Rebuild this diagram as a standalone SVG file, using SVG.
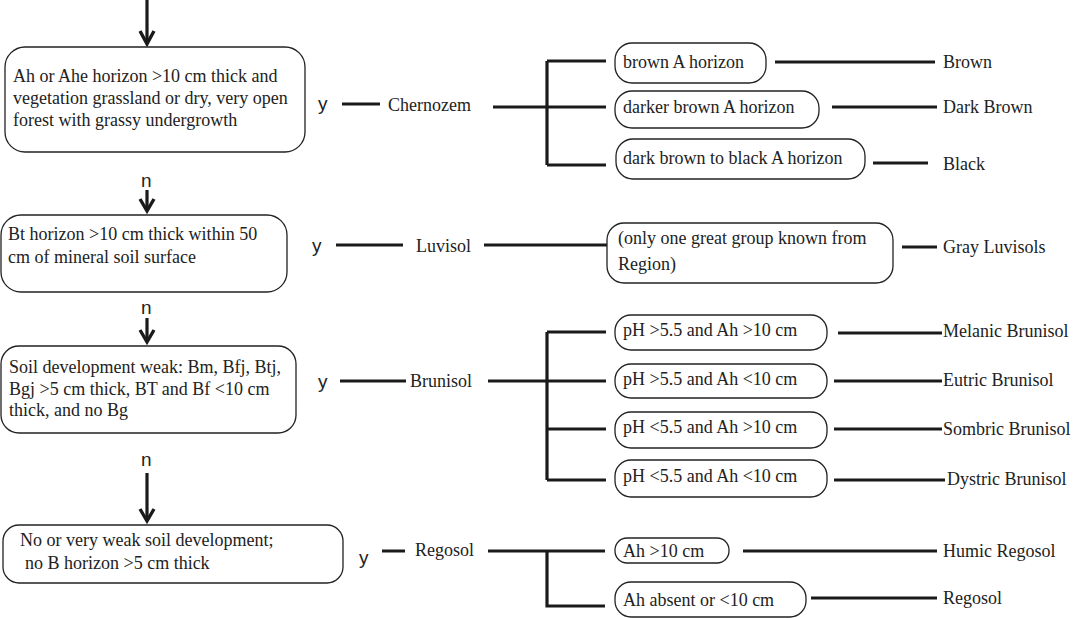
<svg xmlns="http://www.w3.org/2000/svg" width="1079" height="618" viewBox="0 0 1079 618">
<style>
.box{fill:#fff;stroke:#222;stroke-width:1.3}
.t{font-family:"Liberation Serif","Times New Roman",serif;font-size:18px;fill:#222}
.s{font-family:"Liberation Sans",Arial,sans-serif;font-size:19px;fill:#222}
.c{stroke:#1a1a1a;stroke-width:3.2;fill:none}
.ah{stroke:#1a1a1a;stroke-width:3.4;fill:none;stroke-linejoin:miter}
</style>
<rect width="1079" height="618" fill="#fff"/>
<g id="connectors">
<path class="c" d="M147,0 V44"/><path class="ah" d="M140,31 L147,44 L154,31"/>
<path class="c" d="M147,190 V211"/><path class="ah" d="M140,199 L147,211 L154,199"/>
<path class="c" d="M147,318 V342"/><path class="ah" d="M140,330 L147,342 L154,330"/>
<path class="c" d="M147,473 V521"/><path class="ah" d="M140,509 L147,521 L154,509"/>
<path class="c" d="M342,104 H380"/>
<path class="c" d="M493,107 H606 M547,61 V165 M547,61 H606 M547,165 H606"/>
<path class="c" d="M775,62 H935 M832,107 H937 M873,163 H928"/>
<path class="c" d="M336,245 H403 M484,245 H607 M902,247 H937"/>
<path class="c" d="M340,381 H406 M488,381 H606 M547,332 V480 M547,332 H606 M547,429 H606 M547,480 H606"/>
<path class="c" d="M838,333 H942 M834,381 H942 M834,429 H942 M834,480 H945"/>
<path class="c" d="M382,551 H405 M488,551 H605 M547,551 V606 H605"/>
<path class="c" d="M743,551 H937 M811,598 H937"/>
</g>
<g id="box1"><rect class="box" x="5" y="47" width="300" height="105" rx="20"/>
<text class="t" x="13" y="82">Ah or Ahe horizon &gt;10 cm thick and</text>
<text class="t" x="13" y="104">vegetation grassland or dry, very open</text>
<text class="t" x="13" y="126">forest with grassy undergrowth</text></g>
<g id="box2"><rect class="box" x="1" y="215" width="286" height="77" rx="20"/>
<text class="t" x="8" y="240">Bt horizon &gt;10 cm thick within  50</text>
<text class="t" x="8" y="263">cm of mineral soil surface</text></g>
<g id="box3"><rect class="box" x="1" y="346" width="295" height="87" rx="18"/>
<text class="t" x="9" y="373">Soil development weak: Bm, Bfj, Btj,</text>
<text class="t" x="9" y="395">Bgj &gt;5 cm thick, BT and Bf &lt;10 cm</text>
<text class="t" x="9" y="416">thick, and no Bg</text></g>
<g id="box4"><rect class="box" x="3" y="525" width="340" height="58" rx="16"/>
<text class="t" x="20" y="546">No or very weak soil development;</text>
<text class="t" x="25" y="569">no B horizon &gt;5 cm thick</text></g>
<g id="labels">
<text class="s" x="318" y="110">y</text>
<text class="s" x="141" y="187">n</text>
<text class="s" x="312" y="252">y</text>
<text class="s" x="141" y="314">n</text>
<text class="s" x="318" y="388">y</text>
<text class="s" x="141" y="466">n</text>
<text class="s" x="359" y="564">y</text>
</g>
<g id="chernozem"><text class="t" x="388" y="111">Chernozem</text></g>
<g id="luvisol"><text class="t" x="416" y="252">Luvisol</text></g>
<g id="brunisol"><text class="t" x="410" y="387">Brunisol</text></g>
<g id="regosol"><text class="t" x="415" y="556">Regosol</text></g>
<g id="c1"><rect class="box" x="615" y="43" width="151" height="40" rx="17"/><text class="t" x="623" y="68">brown A horizon</text></g>
<g id="c2"><rect class="box" x="615" y="91" width="204" height="37" rx="17"/><text class="t" x="623" y="113">darker brown A horizon</text></g>
<g id="c3"><rect class="box" x="616" y="139" width="249" height="40" rx="17"/><text class="t" x="623" y="164">dark brown to black A horizon</text></g>
<g id="l1"><rect class="box" x="607" y="223" width="286" height="60" rx="17"/><text class="t" x="618" y="244">(only one great group known from</text><text class="t" x="618" y="270">Region)</text></g>
<g id="b1"><rect class="box" x="615" y="315" width="212" height="35" rx="16"/><text class="t" x="623" y="336">pH &gt;5.5 and Ah &gt;10 cm</text></g>
<g id="b2"><rect class="box" x="615" y="364" width="212" height="34" rx="16"/><text class="t" x="623" y="385">pH &gt;5.5 and Ah &lt;10 cm</text></g>
<g id="b3"><rect class="box" x="615" y="412" width="212" height="36" rx="16"/><text class="t" x="623" y="433">pH &lt;5.5 and Ah &gt;10 cm</text></g>
<g id="b4"><rect class="box" x="615" y="460" width="212" height="37" rx="16"/><text class="t" x="623" y="482">pH &lt;5.5 and Ah &lt;10 cm</text></g>
<g id="r1"><rect class="box" x="615" y="538" width="114" height="25" rx="12"/><text class="t" x="623" y="557">Ah &gt;10 cm</text></g>
<g id="r2"><rect class="box" x="615" y="582" width="191" height="35" rx="16"/><text class="t" x="623" y="606">Ah absent or &lt;10 cm</text></g>
<g id="results">
<text class="t" x="943" y="68">Brown</text>
<text class="t" x="943" y="113">Dark Brown</text>
<text class="t" x="943" y="170">Black</text>
<text class="t" x="943" y="253">Gray Luvisols</text>
<text class="t" x="943" y="337">Melanic Brunisol</text>
<text class="t" x="943" y="386">Eutric Brunisol</text>
<text class="t" x="943" y="435">Sombric Brunisol</text>
<text class="t" x="947" y="485">Dystric Brunisol</text>
<text class="t" x="943" y="557">Humic Regosol</text>
<text class="t" x="943" y="604">Regosol</text>
</g>
</svg>
